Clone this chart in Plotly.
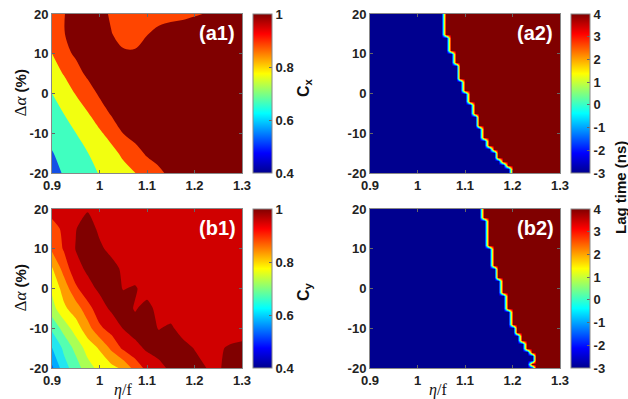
import numpy as np
import plotly.graph_objects as go

W, H = 628, 399

# ---------------- data ----------------
eta_coarse = [0.9, 0.925, 0.95, 0.975, 1.0, 1.025, 1.05, 1.075, 1.1, 1.125,
              1.15, 1.175, 1.2, 1.225, 1.25, 1.275, 1.3]
alpha_coarse = [-20, -15, -10, -5, 0, 5, 10, 15, 20]

# C_x (panel a1), rows = alpha_coarse ascending, cols = eta_coarse
cx_m20 = [0.56, 0.61, 0.64, 0.67, 0.705, 0.73, 0.765, 0.799, 0.835, 0.875, 0.93, 0.95, 0.96, 0.96, 0.96, 0.96, 0.96]
cx_m15 = [0.595, 0.63, 0.66, 0.698, 0.73, 0.77, 0.82, 0.86, 0.915, 0.95, 0.96, 0.96, 0.96, 0.96, 0.96, 0.96, 0.96]
cx_m10 = [0.63, 0.665, 0.699, 0.74, 0.785, 0.835, 0.901, 0.94, 0.96, 0.965, 0.97, 0.97, 0.97, 0.97, 0.97, 0.97, 0.97]
cx_m05 = [0.66, 0.701, 0.74, 0.795, 0.85, 0.91, 0.95, 0.97, 0.97, 0.97, 0.97, 0.97, 0.97, 0.97, 0.97, 0.97, 0.97]
cx_p00 = [0.699, 0.75, 0.805, 0.85, 0.915, 0.95, 0.97, 0.97, 0.97, 0.97, 0.97, 0.97, 0.97, 0.97, 0.97, 0.97, 0.97]
cx_p05 = [0.76, 0.805, 0.86, 0.92, 0.96, 0.97, 0.97, 0.97, 0.97, 0.97, 0.97, 0.97, 0.97, 0.97, 0.97, 0.97, 0.97]
cx_p10 = [0.799, 0.87, 0.915, 0.96, 0.97, 0.955, 0.918, 0.915, 0.945, 0.97, 0.97, 0.97, 0.97, 0.97, 0.97, 0.97, 0.97]
cx_p15 = [0.86, 0.895, 0.95, 0.96, 0.95, 0.905, 0.855, 0.855, 0.895, 0.935, 0.96, 0.97, 0.97, 0.97, 0.97, 0.97, 0.97]
cx_p20 = [0.85, 0.895, 0.95, 0.96, 0.95, 0.88, 0.85, 0.84, 0.845, 0.85, 0.86, 0.87, 0.89, 0.905, 0.93, 0.95, 0.96]

# C_y (panel b1)
cy_m20 = [0.54, 0.63, 0.675, 0.73, 0.765, 0.785, 0.81, 0.87, 0.915, 0.935, 0.96, 0.97, 0.97, 0.95, 0.945, 0.965, 0.965]
cy_m15 = [0.598, 0.66, 0.715, 0.77, 0.805, 0.86, 0.91, 0.935, 0.958, 0.97, 0.965, 0.968, 0.948, 0.925, 0.945, 0.955, 0.958]
cy_m10 = [0.66, 0.72, 0.775, 0.83, 0.89, 0.92, 0.952, 0.97, 0.965, 0.948, 0.958, 0.93, 0.925, 0.925, 0.925, 0.93, 0.935]
cy_m05 = [0.73, 0.79, 0.825, 0.88, 0.93, 0.958, 0.97, 0.946, 0.965, 0.935, 0.925, 0.925, 0.925, 0.925, 0.925, 0.925, 0.925]
cy_p00 = [0.76, 0.82, 0.89, 0.935, 0.958, 0.97, 0.948, 0.955, 0.93, 0.925, 0.925, 0.925, 0.925, 0.925, 0.925, 0.925, 0.925]
cy_p05 = [0.795, 0.87, 0.935, 0.958, 0.975, 0.97, 0.94, 0.925, 0.925, 0.925, 0.925, 0.925, 0.925, 0.925, 0.925, 0.925, 0.925]
cy_p10 = [0.86, 0.905, 0.952, 0.975, 0.96, 0.935, 0.925, 0.925, 0.925, 0.925, 0.925, 0.925, 0.925, 0.925, 0.925, 0.925, 0.925]
cy_p15 = [0.88, 0.91, 0.948, 0.975, 0.94, 0.925, 0.925, 0.925, 0.925, 0.925, 0.925, 0.925, 0.925, 0.925, 0.925, 0.925, 0.925]
cy_p20 = [0.92, 0.925, 0.935, 0.945, 0.93, 0.925, 0.925, 0.925, 0.925, 0.925, 0.925, 0.925, 0.925, 0.925, 0.925, 0.925, 0.925]

# Lag-time maps (a2, b2): eta where lag switches from -3 ns to 4 ns, per alpha
eta_fine = [round(0.9 + 0.01 * i, 2) for i in range(41)]
alpha_fine = list(range(-20, 21))
a2_edge = [1.195, 1.195, 1.185, 1.175, 1.165, 1.165, 1.155, 1.145, 1.145, 1.135,
           1.135, 1.135, 1.125, 1.125, 1.125, 1.115, 1.115, 1.115, 1.105, 1.105,
           1.105, 1.095, 1.095, 1.095, 1.085, 1.085, 1.085, 1.085, 1.075, 1.075,
           1.075, 1.065, 1.065, 1.065, 1.065, 1.055, 1.055, 1.055, 1.055, 1.055, 1.055]
b2_edge = [1.245, 1.235, 1.245, 1.245, 1.235, 1.225, 1.225, 1.215, 1.215, 1.205,
           1.205, 1.195, 1.195, 1.195, 1.195, 1.185, 1.185, 1.185, 1.185, 1.175,
           1.175, 1.175, 1.175, 1.165, 1.165, 1.165, 1.155, 1.155, 1.155, 1.155,
           1.155, 1.145, 1.145, 1.145, 1.145, 1.145, 1.145, 1.145, 1.135, 1.135, 1.135]
lag_low, lag_high = -3, 4

x_ticks = [0.9, 1.0, 1.1, 1.2, 1.3]
x_ticktext = ["0.9", "1", "1.1", "1.2", "1.3"]
y_ticks = [-20, -10, 0, 10, 20]
y_ticktext = ["-20", "-10", "0", "10", "20"]
c_ticks = [0.4, 0.6, 0.8, 1.0]
c_ticktext = ["0.4", "0.6", "0.8", "1"]
lag_ticks = [-3, -2, -1, 0, 1, 2, 3, 4]

# ---------------- styles ----------------
jet = [[0, "rgb(0,0,143)"], [0.125, "rgb(0,0,255)"], [0.375, "rgb(0,255,255)"],
       [0.625, "rgb(255,255,0)"], [0.875, "rgb(255,0,0)"], [1, "rgb(128,0,0)"]]

cx_colors = ["#1450E6", "#40FFC0", "#F2FF10", "#FF4500", "#800000"]
cy_colors = ["#0058F5", "#00AAFF", "#22E6F0", "#55FFB0", "#AAFF55", "#FAFF08",
             "#FF9C00", "#FF4A00", "#D00000", "#800000"]


def step_scale(cols):
    n = len(cols) - 1
    return [[i / n, c] for i, c in enumerate(cols)]


FONT = "Liberation Sans, Arial, sans-serif"
SERIF = "Liberation Serif, Times New Roman, serif"
tickfont = dict(family=FONT, size=13, color="#222", weight="bold")


def px_x(p):
    return p / W


def px_y(p):
    return (H - p) / H


cx_z = [cx_m20, cx_m15, cx_m10, cx_m05, cx_p00, cx_p05, cx_p10, cx_p15, cx_p20]
cy_z = [cy_m20, cy_m15, cy_m10, cy_m05, cy_p00, cy_p05, cy_p10, cy_p15, cy_p20]
eta_arr = np.array(eta_fine)
a2_z = [np.where(eta_arr > e, lag_high, lag_low).tolist() for e in a2_edge]
b2_z = [np.where(eta_arr > e, lag_high, lag_low).tolist() for e in b2_edge]

# panel pixel geometry
left_x = (52, 242)
right_x = (370, 560)
top_y = (14, 173)
bot_y = (209, 368)

fig = go.Figure()


def cbar(x0, yc, ticks, ticktext):
    return dict(x=px_x(x0), xanchor="left", xpad=0, ypad=0,
                y=px_y(yc), yanchor="middle", len=159, lenmode="pixels",
                thickness=19, thicknessmode="pixels",
                outlinewidth=1, outlinecolor="#888",
                tickvals=ticks, ticktext=ticktext, tickfont=tickfont,
                ticks="inside", ticklen=3, tickcolor="#666")


# a1
fig.add_trace(go.Contour(x=eta_coarse, y=alpha_coarse, z=cx_z, xaxis="x", yaxis="y",
                         autocontour=False,
                         contours=dict(start=0.6, end=0.9, size=0.1, coloring="fill", showlines=False),
                         line=dict(width=0, smoothing=1.0),
                         colorscale=step_scale(cx_colors), showscale=False, hoverinfo="skip"))
fig.add_trace(go.Heatmap(z=[[0.4, 1.0]], xaxis="x", yaxis="y", opacity=0, colorscale=jet,
                         zmin=0.4, zmax=1.0, hoverinfo="skip",
                         colorbar=cbar(253, sum(top_y) / 2, c_ticks, c_ticktext)))
# b1
fig.add_trace(go.Contour(x=eta_coarse, y=alpha_coarse, z=cy_z, xaxis="x3", yaxis="y3",
                         autocontour=False,
                         contours=dict(start=0.55, end=0.95, size=0.05, coloring="fill", showlines=False),
                         line=dict(width=0, smoothing=0.6),
                         colorscale=step_scale(cy_colors), showscale=False, hoverinfo="skip"))
fig.add_trace(go.Heatmap(z=[[0.4, 1.0]], xaxis="x3", yaxis="y3", opacity=0, colorscale=jet,
                         zmin=0.4, zmax=1.0, hoverinfo="skip",
                         colorbar=cbar(253, sum(bot_y) / 2, c_ticks, c_ticktext)))
# a2
fig.add_trace(go.Heatmap(x=eta_fine, y=alpha_fine, z=a2_z, xaxis="x2", yaxis="y2",
                         zsmooth="best", colorscale=jet, zmin=-3, zmax=4, hoverinfo="skip",
                         colorbar=cbar(571, sum(top_y) / 2, lag_ticks, [str(t) for t in lag_ticks])))
# b2
fig.add_trace(go.Heatmap(x=eta_fine, y=alpha_fine, z=b2_z, xaxis="x4", yaxis="y4",
                         zsmooth="best", colorscale=jet, zmin=-3, zmax=4, hoverinfo="skip",
                         colorbar=cbar(571, sum(bot_y) / 2, lag_ticks, [str(t) for t in lag_ticks])))


def xax(dom, anchor):
    return dict(domain=[px_x(dom[0]), px_x(dom[1])], anchor=anchor, range=[0.9, 1.3],
                tickvals=x_ticks, ticktext=x_ticktext, tickfont=tickfont,
                showline=True, linecolor="#888", linewidth=1, mirror="ticks",
                ticks="inside", ticklen=3, tickcolor="#666",
                showgrid=False, zeroline=False, automargin=False)


def yax(dom, anchor):
    return dict(domain=[px_y(dom[1]), px_y(dom[0])], anchor=anchor, range=[-20, 20],
                tickvals=y_ticks, ticktext=y_ticktext, tickfont=tickfont,
                showline=True, linecolor="#888", linewidth=1, mirror="ticks",
                ticks="inside", ticklen=3, tickcolor="#666",
                showgrid=False, zeroline=False, automargin=False)


ann = []


def add_ann(text, xp, yp, size, angle=0, color="#111", family=FONT):
    ann.append(dict(text=text, x=px_x(xp), y=px_y(yp), xref="paper", yref="paper",
                    showarrow=False, textangle=angle, xanchor="center", yanchor="middle",
                    font=dict(family=family, size=size, color=color)))


# panel labels
for lbl, xp, yp in [("(a1)", 217, 33), ("(a2)", 535, 33), ("(b1)", 217, 228), ("(b2)", 535, 228)]:
    add_ann("<b>%s</b>" % lbl, xp, yp, 20, color="white")

# axis titles
ylab = '<span style="font-family:%s;font-size:17px">Δ<i>α</i></span> <b>(%%)</b>' % SERIF
add_ann(ylab, 20, sum(top_y) / 2, 15, angle=-90)
add_ann(ylab, 20, sum(bot_y) / 2, 15, angle=-90)
xlab = '<span style="font-family:%s"><i>η</i>/f</span>' % SERIF
add_ann(xlab, 123, 390, 16)
add_ann(xlab, 438, 390, 16)
# colorbar titles
add_ann("<b>C<sub>x</sub></b>", 304, 88, 16, angle=-90)
add_ann("<b>C<sub>y</sub></b>", 304, 292, 16, angle=-90)
add_ann("<b>Lag time (ns)</b>", 620, 188, 15, angle=-90)

fig.update_layout(
    width=W, height=H, margin=dict(l=0, r=0, t=0, b=0, autoexpand=False),
    paper_bgcolor="white", plot_bgcolor="white",
    showlegend=False,
    xaxis=xax(left_x, "y"), yaxis=yax(top_y, "x"),
    xaxis2=xax(right_x, "y2"), yaxis2=yax(top_y, "x2"),
    xaxis3=xax(left_x, "y3"), yaxis3=yax(bot_y, "x3"),
    xaxis4=xax(right_x, "y4"), yaxis4=yax(bot_y, "x4"),
    annotations=ann,
)

fig.write_html("out.html",
               config={"displayModeBar": False, "staticPlot": True},
               post_script="document.body.style.margin='0';document.body.style.overflow='hidden';")
